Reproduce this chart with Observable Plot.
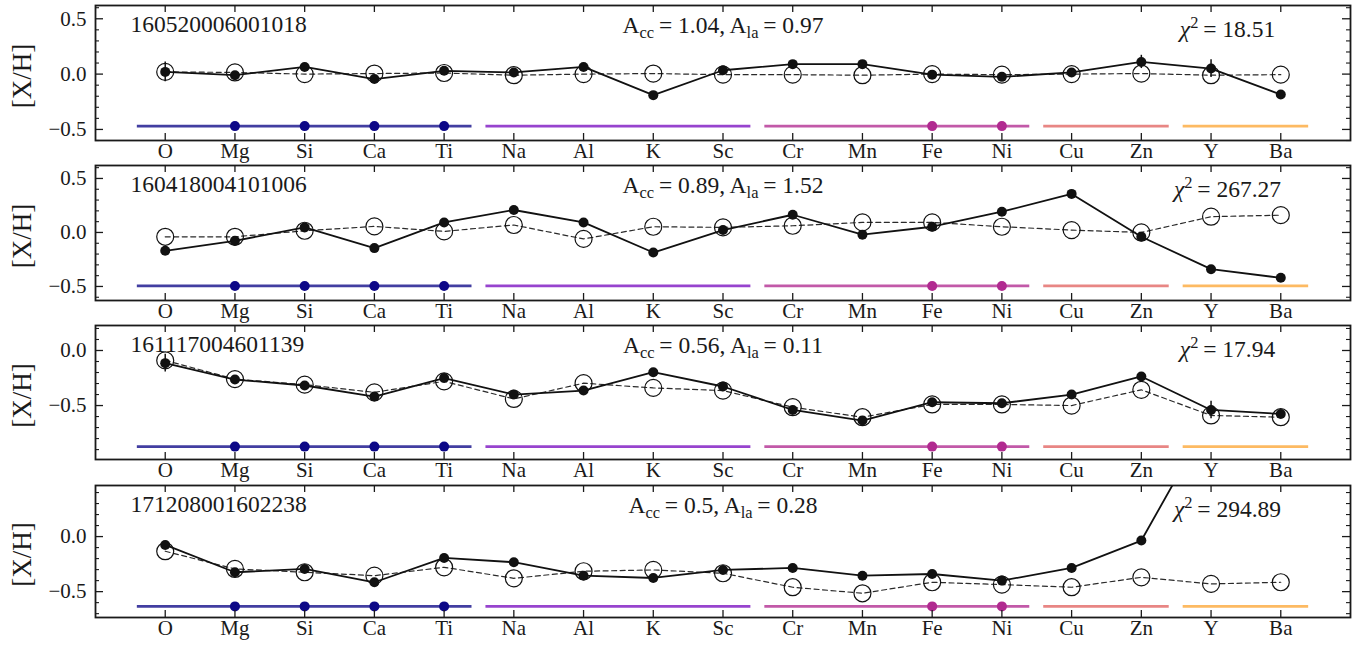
<!DOCTYPE html>
<html>
<head>
<meta charset="utf-8">
<script src="https://cdn.jsdelivr.net/npm/d3@7"></script>
<script src="https://cdn.jsdelivr.net/npm/@observablehq/plot@0.6"></script>
<style>
  body { margin: 0; background: #fff; }
  #chart svg { display: block; overflow: visible; }
</style>
</head>
<body>
<div id="chart"></div>
<script>
// ---------- data ----------
const elements = ["O","Mg","Si","Ca","Ti","Na","Al","K","Sc","Cr","Mn","Fe","Ni","Cu","Zn","Y","Ba"];

const starIds = ["160520006001018","160418004101006","161117004601139","171208001602238"];
const accValues = [1.04, 0.89, 0.56, 0.5];
const alaValues = [0.97, 1.52, 0.11, 0.28];
const chi2Values = [18.51, 267.27, 17.94, 294.89];

// observed abundances (filled circles, solid line)
const observed1 = [0.02, -0.01, 0.065, -0.045, 0.03, 0.015, 0.065, -0.19, 0.035, 0.09, 0.09, -0.005, -0.025, 0.015, 0.11, 0.05, -0.185];
const observed2 = [-0.17, -0.077, 0.047, -0.145, 0.093, 0.208, 0.093, -0.186, 0.022, 0.164, -0.021, 0.053, 0.192, 0.357, -0.04, -0.34, -0.42];
const observed3 = [-0.115, -0.264, -0.318, -0.418, -0.25, -0.4, -0.364, -0.197, -0.327, -0.54, -0.636, -0.47, -0.479, -0.4, -0.236, -0.54, -0.576];
const observed4 = [-0.076, -0.324, -0.294, -0.415, -0.194, -0.233, -0.355, -0.376, -0.303, -0.285, -0.355, -0.34, -0.4, -0.285, -0.036, 1.09, 1.2];

// model abundances (open circles, dashed line)
const model1 = [0.02, 0.015, 0.0, 0.005, 0.01, -0.01, 0.0, 0.005, -0.005, -0.005, -0.01, 0.0, -0.005, 0.0, 0.005, -0.01, -0.005];
const model2 = [-0.04, -0.04, 0.016, 0.056, 0.01, 0.069, -0.06, 0.053, 0.047, 0.062, 0.093, 0.093, 0.053, 0.022, 0.0, 0.146, 0.16];
const model3 = [-0.09, -0.26, -0.31, -0.38, -0.28, -0.44, -0.297, -0.34, -0.364, -0.515, -0.606, -0.49, -0.49, -0.5, -0.357, -0.59, -0.606];
const model4 = [-0.133, -0.294, -0.324, -0.355, -0.279, -0.379, -0.315, -0.303, -0.333, -0.46, -0.515, -0.415, -0.436, -0.46, -0.37, -0.43, -0.415];

// observational uncertainties
const error1 = [0.09, 0.02, 0.02, 0.02, 0.02, 0.02, 0.02, 0.02, 0.02, 0.02, 0.02, 0.02, 0.02, 0.02, 0.06, 0.08, 0.02];
const error2 = [0.03, 0.02, 0.02, 0.02, 0.02, 0.02, 0.02, 0.02, 0.02, 0.02, 0.02, 0.02, 0.02, 0.02, 0.02, 0.02, 0.02];
const error3 = [0.08, 0.02, 0.02, 0.02, 0.02, 0.02, 0.02, 0.02, 0.02, 0.02, 0.02, 0.02, 0.02, 0.02, 0.03, 0.08, 0.02];
const error4 = [0.02, 0.02, 0.02, 0.02, 0.02, 0.02, 0.02, 0.02, 0.02, 0.02, 0.02, 0.02, 0.02, 0.02, 0.02, 0.02, 0.02];

// y-axis limits and level of the element-group bars, per panel
const yLimits = [[-0.6, 0.62], [-0.63, 0.62], [-0.99, 0.227], [-0.735, 0.464]];
const groupBarLevels = [-0.47, -0.495, -0.873, -0.634];

// element groups
const groupMembers = [["O","Mg","Si","Ca","Ti"], ["Na","Al","K","Sc"], ["Cr","Mn","Fe","Ni"], ["Cu","Zn"], ["Y","Ba"]];
const groupColors = ["#0d0887", "#7a10c0", "#b12a90", "#e16462", "#fca636"];
const markedElements = ["Mg","Si","Ca","Ti","Fe","Ni"];

const observedAll = [observed1, observed2, observed3, observed4];
const modelAll = [model1, model2, model3, model4];
const errorAll = [error1, error2, error3, error4];

// ---------- drawing ----------
const W = 1357, ML = 95, MR = 7, MT = 5;
const INK = "#1a1a1a";

function groupOf(el) { return groupMembers.findIndex(g => g.includes(el)); }

function panel(k, height, mb) {
  const fw = W - ML - MR, fh = height - MT - mb;
  const [lo, hi] = yLimits[k];
  const level = groupBarLevels[k];
  const rows = elements.map((e, i) => ({i, e, obs: observedAll[k][i], mod: modelAll[k][i], err: errorAll[k][i]}));
  const tenth = d3.range(Math.ceil(lo * 10 - 1e-9), Math.floor(hi * 10 + 1e-9) + 1);
  const major = tenth.filter(v => v % 5 === 0).map(v => v / 10);
  const minor = tenth.filter(v => v % 5 !== 0).map(v => v / 10);
  const segs = groupMembers.map((m, g) => ({
    x1: elements.indexOf(m[0]) - 0.4,
    x2: elements.indexOf(m[m.length - 1]) + 0.4,
    y: level, color: groupColors[g]
  }));
  const marked = markedElements.map(e => ({x: elements.indexOf(e), y: level, color: groupColors[groupOf(e)]}));
  const idx = d3.range(elements.length);

  const svg = Plot.plot({
    width: W, height,
    marginLeft: ML, marginRight: MR, marginTop: MT, marginBottom: mb,
    style: {fontFamily: "'Liberation Serif', 'Times New Roman', serif", fontSize: "21px", background: "transparent", color: INK},
    x: {domain: [-1, 17]},
    y: {domain: [lo, hi]},
    color: {type: "identity"},
    marks: [
      // element group bars
      Plot.ruleY(segs, {y: "y", x1: "x1", x2: "x2", stroke: "color", strokeWidth: 2.6, strokeOpacity: 0.78}),
      Plot.dot(marked, {x: "x", y: "y", r: 5, fill: "color"}),
      // model (dashed, open circles)
      Plot.line(rows, {x: "i", y: "mod", stroke: "#2a2a2a", strokeWidth: 1.2, strokeDasharray: "5,3.5", clip: true}),
      Plot.dot(rows, {x: "i", y: "mod", r: 8.5, stroke: "#111", strokeWidth: 1.2, fill: "none", clip: true}),
      // observed (solid, filled)
      Plot.ruleX(rows, {x: "i", y1: d => d.obs - d.err, y2: d => d.obs + d.err, stroke: "#111", strokeWidth: 1.5, clip: true}),
      Plot.line(rows, {x: "i", y: "obs", stroke: "#111", strokeWidth: 1.8, clip: true}),
      Plot.dot(rows, {x: "i", y: "obs", r: 5, fill: "#111", clip: true}),
      // inward ticks
      Plot.ruleX(idx, {x: d => d, insetBottom: fh - 7, stroke: INK, strokeWidth: 1.3}),
      Plot.ruleX(idx, {x: d => d, insetTop: fh - 7, stroke: INK, strokeWidth: 1.3}),
      Plot.ruleY(major, {y: d => d, insetRight: fw - 8, stroke: INK, strokeWidth: 1.3}),
      Plot.ruleY(major, {y: d => d, insetLeft: fw - 8, stroke: INK, strokeWidth: 1.3}),
      Plot.ruleY(minor, {y: d => d, insetRight: fw - 4, stroke: INK, strokeWidth: 1.1}),
      Plot.ruleY(minor, {y: d => d, insetLeft: fw - 4, stroke: INK, strokeWidth: 1.1}),
      Plot.frame({stroke: INK, strokeWidth: 1.8}),
      // axes
      Plot.axisX({ticks: idx, tickFormat: i => elements[i], tickSize: 0, tickPadding: 3, label: null}),
      Plot.axisY({ticks: major, tickFormat: d3.format(".1f"), tickSize: 0, tickPadding: 9, label: null}),
      Plot.text(["[X/H]"], {text: d => d, frameAnchor: "left", dx: -73, dy: 3, rotate: -90, fontSize: 27, textAnchor: "middle", lineAnchor: "middle"}),
      // annotations
      Plot.text([starIds[k]], {text: d => d, frameAnchor: "top-left", dx: 35, dy: 19, textAnchor: "start", lineAnchor: "middle", fontSize: 23.5}),
      Plot.text([`A_cc = ${accValues[k]}, A_la = ${alaValues[k]}`], {text: d => d, frameAnchor: "top", dx: 0, dy: 20, textAnchor: "middle", lineAnchor: "middle", fontSize: 23.5}),
      Plot.text([`CHI2 = ${chi2Values[k].toFixed(2)}`], {text: d => d, frameAnchor: "top-right", dx: -123, dy: 24, textAnchor: "middle", lineAnchor: "middle", fontSize: 23.5})
    ]
  });
  richText(svg);
  return svg;
}

function addSpan(t, str, opts = {}) {
  const s = document.createElementNS("http://www.w3.org/2000/svg", "tspan");
  s.textContent = str;
  if (opts.dy) s.setAttribute("dy", opts.dy);
  if (opts.size) s.style.fontSize = opts.size;
  if (opts.italic) s.style.fontStyle = "italic";
  t.appendChild(s);
}

function richText(svg) {
  svg.querySelectorAll("text").forEach(t => {
    const s = t.textContent;
    let m;
    if ((m = s.match(/^A_cc = (.*), A_la = (.*)$/))) {
      t.textContent = "";
      addSpan(t, "A");
      addSpan(t, "cc", {dy: 5, size: "70%"});
      addSpan(t, "\u2009= " + m[1] + ", A", {dy: -5});
      addSpan(t, "la", {dy: 5, size: "70%"});
      addSpan(t, "\u2009= " + m[2], {dy: -5});
    } else if ((m = s.match(/^CHI2 = (.*)$/))) {
      t.textContent = "";
      addSpan(t, "\u03c7", {italic: true});
      addSpan(t, "2", {dy: -9, size: "70%"});
      addSpan(t, "\u2009= " + m[1], {dy: 9});
    }
  });
}

const chart = document.getElementById("chart");
chart.appendChild(panel(0, 160, 20));
chart.appendChild(panel(1, 160, 20));
chart.appendChild(panel(2, 160, 21));
chart.appendChild(panel(3, 165, 28));
</script>
</body>
</html>
